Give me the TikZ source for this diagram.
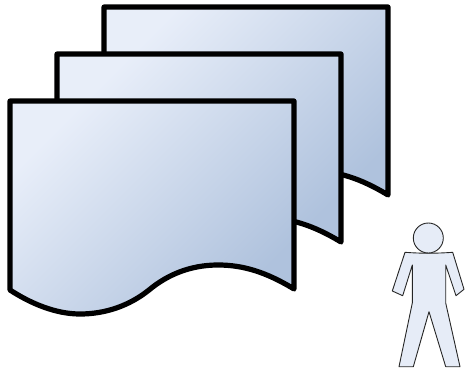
\documentclass[tikz,border=0pt]{standalone}
\definecolor{docLight}{HTML}{E8EEF9}
\definecolor{docMid}{HTML}{BDCDE8}
\definecolor{docDark}{HTML}{AFC2DD}
\definecolor{personFill}{HTML}{E6ECF7}
\tikzset{
  docsheet/.style={draw=black,line width=5.2pt,line join=round,line cap=round,
    top color=docLight,middle color=docMid,bottom color=docDark,shading angle=45},
  personpart/.style={draw=black!85,line width=0.9pt,line join=round,fill=personFill}
}
\newcommand{\docpath}[2]{%
  \path[docsheet,shift={(#1,#2)}] (10,101) -- (294,101) -- (294,289)
    .. controls (266,272) and (243,265) .. (218,265)
    .. controls (190,265) and (167,275) .. (149,290)
    .. controls (129,306) and (105,314) .. (80,314)
    .. controls (55,314) and (30,303) .. (10,290) -- cycle;}
\begin{document}
\begin{tikzpicture}[x=1pt,y=-1pt]
\useasboundingbox (0,0) rectangle (465,371);
\docpath{94}{-94}
\docpath{47}{-47}
\docpath{0}{0}
\path[personpart] (405,252.3) .. controls (420,253.5) and (437,253.5) .. (452.7,252.3)
  -- (464,289.3) -- (456,295.7) -- (445.7,265) -- (445.7,303) -- (460,366.7) -- (445.7,366.7)
  -- (429,311.7) -- (413.3,366.7) -- (399,366.7) -- (412.3,303) -- (412.3,265)
  -- (402.7,295.7) -- (392.3,291) -- cycle;
\path[personpart] (428.3,238) circle[radius=15];
\end{tikzpicture}
\end{document}
